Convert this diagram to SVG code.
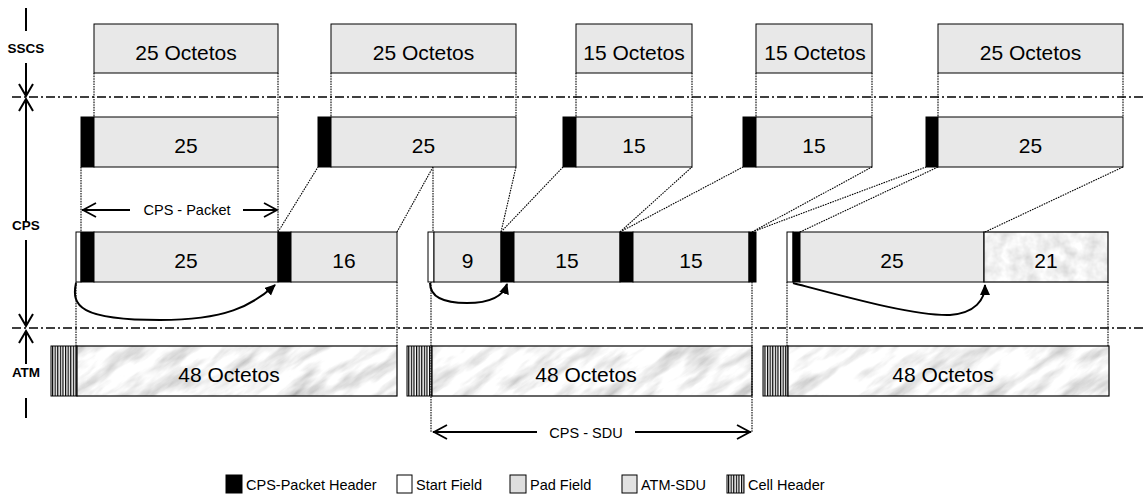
<svg xmlns="http://www.w3.org/2000/svg" width="1144" height="495" viewBox="0 0 1144 495">
<style>
text{font-family:"Liberation Sans",Arial,sans-serif;fill:#000}
.big{font-size:21px;text-anchor:middle}
.lbl{font-size:13.5px;font-weight:bold;text-anchor:middle}
.small{font-size:14.5px}
.box{fill:#e8e8e8;stroke:#000;stroke-width:1}
.hdr{fill:#000;stroke:#000;stroke-width:1}
.start{fill:#fff;stroke:#000;stroke-width:1}
.frame{fill:none;stroke:#000;stroke-width:1.2}
.dot{fill:none;stroke:#000;stroke-width:1.1;stroke-dasharray:1.6 1}
.dd{fill:none;stroke:#000;stroke-width:1.5;stroke-dasharray:9 3 2 3}
.axis{fill:none;stroke:#000;stroke-width:2}
.open{fill:none;stroke:#000;stroke-width:1.8}
.curve{fill:none;stroke:#000;stroke-width:2}
.cellh{fill:url(#stripes);stroke:#000;stroke-width:1}
.atm{fill:url(#marbleP);stroke:#000;stroke-width:1.2}
</style>
<defs>
<pattern id="stripes" patternUnits="userSpaceOnUse" width="2.6" height="10">
<rect width="2.6" height="10" fill="#fff"/>
<rect width="1.2" height="10" fill="#000"/>
</pattern>
<filter id="marble" filterUnits="objectBoundingBox" x="0" y="0" width="1" height="1">
<feTurbulence type="fractalNoise" baseFrequency="0.02 0.07" numOctaves="4" seed="7" stitchTiles="stitch"/>
<feColorMatrix type="matrix" values="1.1 0 0 0 0.36  1.1 0 0 0 0.36  1.1 0 0 0 0.36  0 0 0 0 1"/>
</filter>
<pattern id="marbleP" patternUnits="userSpaceOnUse" width="300" height="300" patternTransform="rotate(-35)">
<rect width="300" height="300" filter="url(#marble)"/>
</pattern>
<filter id="pad" filterUnits="objectBoundingBox" x="0" y="0" width="1" height="1">
<feTurbulence type="fractalNoise" baseFrequency="0.08" numOctaves="3" seed="3"/>
<feColorMatrix type="matrix" values="0.5 0 0 0 0.63  0.5 0 0 0 0.63  0.5 0 0 0 0.63  0 0 0 0 1"/>
</filter>
<marker id="fa" markerUnits="userSpaceOnUse" markerWidth="12" markerHeight="12" refX="10" refY="5" orient="auto">
<path d="M0,0 L11,5 L0,10 Z" fill="#000"/>
</marker>
</defs>

<!-- layer separators -->
<g id="separators">
<line class="dd" x1="12" y1="97" x2="1144" y2="97"/>
<line class="dd" x1="12" y1="328" x2="1144" y2="328"/>
</g>

<!-- layer axis labels -->
<g id="axis">
<line class="axis" x1="26" y1="8" x2="26" y2="31"/>
<text class="lbl" x="26" y="53">SSCS</text>
<line class="axis" x1="26" y1="63" x2="26" y2="95"/>
<path class="axis" d="M19,84 L26,96 L33,84"/>
<path class="axis" d="M19,111 L26,99 L33,111"/>
<line class="axis" x1="26" y1="99" x2="26" y2="221"/>
<text class="lbl" x="26" y="230">CPS</text>
<line class="axis" x1="26" y1="240" x2="26" y2="326"/>
<path class="axis" d="M19,314 L26,326 L33,314"/>
<path class="axis" d="M19,343 L26,331 L33,343"/>
<line class="axis" x1="26" y1="331" x2="26" y2="364"/>
<text class="lbl" x="26" y="377">ATM</text>
<line class="axis" x1="26" y1="398" x2="26" y2="418"/>
</g>

<!-- SSCS -->
<g id="sscs1"><rect class="box" x="94" y="24" width="184" height="49"/><text class="big" x="186" y="60">25 Octetos</text></g>
<g id="sscs2"><rect class="box" x="331" y="24" width="185" height="49"/><text class="big" x="423.5" y="60">25 Octetos</text></g>
<g id="sscs3"><rect class="box" x="576" y="24" width="116" height="49"/><text class="big" x="634" y="60">15 Octetos</text></g>
<g id="sscs4"><rect class="box" x="756" y="24" width="116" height="49"/><text class="big" x="815" y="60">15 Octetos</text></g>
<g id="sscs5"><rect class="box" x="938" y="24" width="185" height="49"/><text class="big" x="1030.5" y="60">25 Octetos</text></g>

<!-- CPS packets -->
<g id="pkt1"><rect class="hdr" x="81" y="117" width="13" height="50"/><rect class="box" x="94" y="117" width="184" height="50"/><text class="big" x="186" y="153">25</text></g>
<g id="pkt2"><rect class="hdr" x="318" y="117" width="13" height="50"/><rect class="box" x="331" y="117" width="185" height="50"/><text class="big" x="423.5" y="153">25</text></g>
<g id="pkt3"><rect class="hdr" x="563" y="117" width="13" height="50"/><rect class="box" x="576" y="117" width="116" height="50"/><text class="big" x="634" y="153">15</text></g>
<g id="pkt4"><rect class="hdr" x="743" y="117" width="13" height="50"/><rect class="box" x="756" y="117" width="116" height="50"/><text class="big" x="814" y="153">15</text></g>
<g id="pkt5"><rect class="hdr" x="926" y="117" width="12" height="50"/><rect class="box" x="938" y="117" width="185" height="50"/><text class="big" x="1030.5" y="153">25</text></g>

<!-- CPS-PDU rows -->
<g id="cps1">
<rect class="start" x="76" y="232" width="5" height="50"/>
<rect class="hdr" x="81" y="232" width="13" height="50"/>
<rect class="box" x="94" y="232" width="184" height="50"/><text class="big" x="186" y="268">25</text>
<rect class="hdr" x="278" y="232" width="13" height="50"/>
<rect class="box" x="291" y="232" width="106" height="50"/><text class="big" x="344" y="268">16</text>
</g>
<g id="cps2">
<rect class="start" x="428" y="232" width="6" height="50"/>
<rect class="box" x="434" y="232" width="67" height="50"/><text class="big" x="467.5" y="268">9</text>
<rect class="hdr" x="501" y="232" width="13" height="50"/>
<rect class="box" x="514" y="232" width="106" height="50"/><text class="big" x="567" y="268">15</text>
<rect class="hdr" x="620" y="232" width="13" height="50"/>
<rect class="box" x="633" y="232" width="116" height="50"/><text class="big" x="691" y="268">15</text>
<rect class="hdr" x="749" y="232" width="7" height="50"/>
</g>
<g id="cps3">
<rect class="start" x="787" y="232" width="6" height="50"/>
<rect class="hdr" x="793" y="232" width="7" height="50"/>
<rect class="box" x="800" y="232" width="184" height="50"/><text class="big" x="892" y="268">25</text>
<rect x="984" y="232" width="124" height="50" filter="url(#pad)"/>
<rect class="frame" x="984" y="232" width="124" height="50"/>
<text class="big" x="1046" y="268">21</text>
</g>

<!-- ATM cells -->
<g id="atm1">
<rect class="cellh" x="51" y="346" width="26" height="50"/>
<rect class="atm" x="77" y="346" width="320" height="50"/>
<text class="big" x="229" y="382">48 Octetos</text>
</g>
<g id="atm2">
<rect class="cellh" x="407" y="346" width="25" height="50"/>
<rect class="atm" x="432" y="346" width="320" height="50"/>
<text class="big" x="586" y="382">48 Octetos</text>
</g>
<g id="atm3">
<rect class="cellh" x="763" y="346" width="25" height="50"/>
<rect class="atm" x="788" y="346" width="321" height="50"/>
<text class="big" x="943" y="382">48 Octetos</text>
</g>

<!-- connectors -->
<g id="connectors">
<path class="dot" d="M94,73V117 M278,73V117 M331,73V117 M516,73V117 M576,73V117 M692,73V117 M756,73V117 M872,73V117 M938,73V117 M1123,73V117"/>
<path class="dot" d="M81,167V232 M278,167V232 M278,232L318,167 M397,232L433,167 M433,167V232 M501,232L516,167 M501,232L563,167 M620,232L692,167 M620,232L743,167 M752,232L872,167 M752,232L926,167 M800,232L938,167 M985,232L1123,167"/>
<path class="dot" d="M76,282V346 M397,282V346 M431,282V432 M752,282V432 M787,282V346 M1108,282V346"/>
<line class="open" x1="82" y1="210" x2="130" y2="210"/>
<line class="open" x1="243" y1="210" x2="277" y2="210"/>
<path class="open" d="M96,203 L83,210 L96,217 M264,203 L277,210 L264,217"/>
<text class="small" x="187" y="215" text-anchor="middle">CPS - Packet</text>
<line class="open" x1="433" y1="432" x2="537" y2="432"/>
<line class="open" x1="635" y1="432" x2="751" y2="432"/>
<path class="open" d="M447,425 L434,432 L447,439 M737,425 L750,432 L737,439"/>
<text class="small" x="586" y="438" text-anchor="middle">CPS - SDU</text>
<path class="curve" d="M76,283 C71,306 80,320 160,320 C225,320 252,306 275,285" marker-end="url(#fa)"/>
<path class="curve" d="M430,283 C430,298 445,303 467,303 C490,303 503,297 507,284" marker-end="url(#fa)"/>
<path class="curve" d="M793,283 C850,298 915,316 950,315 C975,313 985,300 985,285" marker-end="url(#fa)"/>
</g>

<!-- legend -->
<g id="legend">
<rect x="226" y="475" width="16" height="18" fill="#000" stroke="#000"/>
<text class="small" x="246" y="490">CPS-Packet Header</text>
<rect x="397" y="475" width="15" height="18" fill="#fff" stroke="#000"/>
<text class="small" x="416" y="490">Start Field</text>
<rect x="510" y="475" width="16" height="18" fill="#dedede" stroke="#000"/>
<text class="small" x="530" y="490">Pad Field</text>
<rect x="622" y="475" width="15" height="18" fill="#e2e2e2" stroke="#000"/>
<text class="small" x="641" y="490">ATM-SDU</text>
<rect x="727" y="475" width="17" height="18" fill="url(#stripes)" stroke="#000"/>
<text class="small" x="748" y="490">Cell Header</text>
</g>
</svg>
